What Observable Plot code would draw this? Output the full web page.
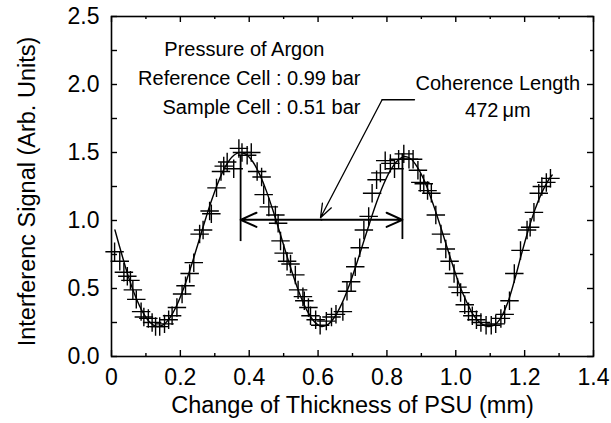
<!DOCTYPE html>
<html><head><meta charset="utf-8">
<script src="https://cdn.jsdelivr.net/npm/d3@7"></script>
<script src="https://cdn.jsdelivr.net/npm/@observablehq/plot@0.6"></script>
<style>body{margin:0;background:#fff} #chart{width:611px;height:423px}</style>
</head><body><div id="chart"></div>
<script>
// ---- data ----
const ptX = [0.009,0.024,0.036,0.046,0.055,0.062,0.072,0.086,0.094,0.107,0.118,0.128,0.140,0.154,0.166,0.176,0.190,0.205,0.215,0.227,0.239,0.256,0.266,0.285,0.290,0.305,0.318,0.326,0.336,0.355,0.370,0.379,0.394,0.406,0.423,0.436,0.442,0.457,0.476,0.484,0.491,0.500,0.510,0.520,0.534,0.542,0.556,0.560,0.572,0.578,0.593,0.606,0.624,0.639,0.652,0.672,0.684,0.696,0.708,0.721,0.733,0.747,0.757,0.770,0.781,0.795,0.810,0.822,0.834,0.849,0.864,0.876,0.890,0.897,0.907,0.918,0.929,0.942,0.957,0.971,0.982,0.995,1.005,1.014,1.026,1.037,1.048,1.060,1.073,1.088,1.103,1.116,1.131,1.142,1.156,1.170,1.188,1.207,1.216,1.227,1.241,1.250,1.263,1.275];
const ptY = [0.77,0.70,0.62,0.59,0.56,0.49,0.42,0.33,0.29,0.28,0.25,0.22,0.22,0.24,0.27,0.30,0.36,0.46,0.52,0.61,0.69,0.90,0.93,1.07,1.05,1.24,1.36,1.40,1.43,1.38,1.53,1.50,1.48,1.50,1.36,1.32,1.19,1.10,1.04,0.98,0.85,0.76,0.70,0.68,0.60,0.49,0.44,0.41,0.36,0.30,0.27,0.23,0.26,0.29,0.31,0.33,0.48,0.55,0.66,0.80,0.93,1.03,1.20,1.30,1.35,1.44,1.42,1.38,1.45,1.49,1.45,1.45,1.37,1.28,1.27,1.22,1.20,1.04,0.90,0.79,0.70,0.61,0.51,0.47,0.38,0.33,0.30,0.27,0.25,0.23,0.23,0.24,0.28,0.31,0.41,0.61,0.78,0.93,0.95,1.06,1.20,1.25,1.28,1.31];
const fitX = [0.01,0.03,0.05,0.07,0.09,0.11,0.13,0.15,0.17,0.19,0.21,0.23,0.25,0.27,0.29,0.31,0.33,0.35,0.37,0.39,0.41,0.43,0.45,0.47,0.49,0.51,0.53,0.55,0.57,0.59,0.61,0.63,0.65,0.67,0.69,0.71,0.73,0.75,0.77,0.79,0.81,0.83,0.85,0.87,0.89,0.91,0.93,0.95,0.97,0.99,1.01,1.03,1.05,1.07,1.09,1.11,1.13,1.15,1.17,1.19,1.21,1.23,1.25,1.27,1.28];
const fitY = [0.93,0.75,0.58,0.44,0.33,0.255,0.222,0.232,0.286,0.379,0.504,0.654,0.818,0.985,1.143,1.282,1.392,1.466,1.499,1.488,1.434,1.341,1.216,1.066,0.902,0.735,0.577,0.438,0.328,0.254,0.221,0.238,0.298,0.394,0.520,0.667,0.826,0.984,1.134,1.265,1.369,1.438,1.470,1.452,1.385,1.285,1.150,1.000,0.840,0.680,0.530,0.410,0.310,0.250,0.222,0.228,0.280,0.390,0.555,0.745,0.925,1.080,1.205,1.300,1.335];

const xTickVals = [0,0.2,0.4,0.6,0.8,1.0,1.2,1.4];
const xTickLabels = ["0","0.2","0.4","0.6","0.8","1.0","1.2","1.4"];
const xMinor = [0.1,0.3,0.5,0.7,0.9,1.1,1.3];
const yTickVals = [0,0.5,1.0,1.5,2.0,2.5];
const yTickLabels = ["0.0","0.5","1.0","1.5","2.0","2.5"];
const yMinor = [0.25,0.75,1.25,1.75,2.25];

const xTitle = "Change of Thickness of PSU (mm)";
const yTitle = "Interferenc Signal (Arb. Units)";

// annotations
const infoLines = ["Reference Cell : 0.99 bar","Sample Cell : 0.51 bar"];
const infoY = [2.044,1.831];
const headText = "Pressure of Argon";
const cohText = ["Coherence Length","472\u2009\u03bcm"];
const cohY = [2.007,1.81];
const markX = [0.375,0.845];
const markY1 = [0.845,0.86];
const markY2 = [1.48,1.49];
const spanMid = 0.61, spanY = 1.005;
const leaderX = [0.880,0.786];
const leaderY = [1.888,1.888];
const leaderTip = {x:0.607, y:1.02};

// ---- layout ----
const W = 611, H = 423, mL = 111, mR = 18, mT = 16, mB = 67;
const pw = W - mL - mR, ph = H - mT - mB;
const major = 6, minor = 3;

const pts = ptX.map((x,i)=>({x, y: ptY[i]}));
const fit = fitX.map((x,i)=>({x, y: fitY[i]}));
const xl = new Map(xTickVals.map((v,i)=>[v, xTickLabels[i]]));
const yl = new Map(yTickVals.map((v,i)=>[v, yTickLabels[i]]));
const font = "'Liberation Sans', Arial, Helvetica, sans-serif";

const chart = Plot.plot({
  width: W, height: H, marginLeft: mL, marginRight: mR, marginTop: mT, marginBottom: mB,
  style: {fontFamily: font, background: "white", color: "black"},
  x: {domain: [0,1.4]},
  y: {domain: [0,2.5]},
  marks: [
    Plot.axisX(xTickVals, {tickSize: 0, tickPadding: 12, fontSize: 23, tickFormat: d => xl.get(d), label: null}),
    Plot.axisY(yTickVals, {tickSize: 0, tickPadding: 12, fontSize: 23, tickFormat: d => yl.get(d), label: null}),
    // inward ticks on all sides
    Plot.tickX(xTickVals, {x: d=>d, insetTop: ph - major, stroke: "black", strokeWidth: 1.4}),
    Plot.tickX(xMinor, {x: d=>d, insetTop: ph - minor, stroke: "black", strokeWidth: 1.4}),
    Plot.tickX(xTickVals, {x: d=>d, insetBottom: ph - major, stroke: "black", strokeWidth: 1.4}),
    Plot.tickX(xMinor, {x: d=>d, insetBottom: ph - minor, stroke: "black", strokeWidth: 1.4}),
    Plot.tickY(yTickVals, {y: d=>d, insetRight: pw - major, stroke: "black", strokeWidth: 1.4}),
    Plot.tickY(yMinor, {y: d=>d, insetRight: pw - major, stroke: "black", strokeWidth: 1.4}),
    Plot.tickY(yTickVals, {y: d=>d, insetLeft: pw - major, stroke: "black", strokeWidth: 1.4}),
    Plot.tickY(yMinor, {y: d=>d, insetLeft: pw - minor, stroke: "black", strokeWidth: 1.4}),
    Plot.frame({stroke: "black", strokeWidth: 1.6}),
    // data
    Plot.line(fit, {x: "x", y: "y", curve: "catmull-rom", stroke: "black", strokeWidth: 1.4}),
    Plot.dot(pts, {x: "x", y: "y", symbol: "plus", r: 6, stroke: "black", strokeWidth: 1.4}),
    // coherence length marker
    Plot.ruleX(markX.map((x,i)=>({x, y1: markY1[i], y2: markY2[i]})), {x: "x", y1: "y1", y2: "y2", stroke: "black", strokeWidth: 1.8}),
    Plot.arrow(markX.map(x=>({x1: spanMid, x2: x})), {x1: "x1", x2: "x2", y1: spanY, y2: spanY, stroke: "black", strokeWidth: 2, headLength: 13, headAngle: 48}),
    Plot.line(leaderX.map((x,i)=>({x, y: leaderY[i]})), {x: "x", y: "y", stroke: "black", strokeWidth: 1.3}),
    Plot.arrow([{x1: leaderX[1], y1: leaderY[1], x2: leaderTip.x, y2: leaderTip.y}], {x1: "x1", y1: "y1", x2: "x2", y2: "y2", stroke: "black", strokeWidth: 1.3, headLength: 17, headAngle: 40}),
    // texts
    Plot.text([headText], {x: 0.386, y: 2.257, text: d=>d, fontSize: 20, textAnchor: "middle", fill: "black"}),
    Plot.text(infoLines, {x: 0.723, y: (d,i)=>infoY[i], text: d=>d, fontSize: 20, textAnchor: "end", fill: "black"}),
    Plot.text(cohText, {x: 1.122, y: (d,i)=>cohY[i], text: d=>d, fontSize: 20, textAnchor: "middle", fill: "black"}),
    // axis titles
    Plot.text([xTitle], {frameAnchor: "bottom", dy: 56, text: d=>d, fontSize: 23.5, textAnchor: "middle", fill: "black"}),
    Plot.text([yTitle], {frameAnchor: "left", dx: -84, dy: 5, rotate: -90, text: d=>d, fontSize: 23.5, textAnchor: "middle", fill: "black"})
  ]
});
document.getElementById("chart").appendChild(chart);
</script>
</body></html>
